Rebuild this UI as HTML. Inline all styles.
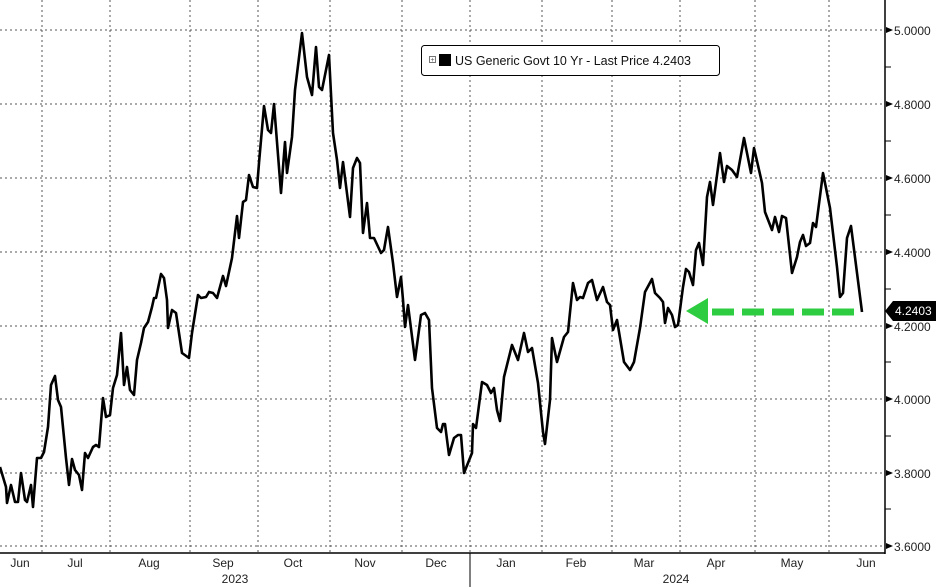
<!DOCTYPE html>
<html><head><meta charset="utf-8"><style>
body{margin:0;background:#fff}
svg{display:block;font-family:"Liberation Sans",sans-serif}
</style></head><body>
<svg width="936" height="587" viewBox="0 0 936 587" xmlns="http://www.w3.org/2000/svg">
<rect width="936" height="587" fill="#fff"/>
<g stroke="#555" stroke-width="1" stroke-dasharray="2,3">
<line x1="0" y1="30" x2="884" y2="30"/><line x1="0" y1="104" x2="884" y2="104"/>
<line x1="0" y1="178" x2="884" y2="178"/><line x1="0" y1="252" x2="884" y2="252"/>
<line x1="0" y1="326" x2="884" y2="326"/><line x1="0" y1="399" x2="884" y2="399"/>
<line x1="0" y1="473" x2="884" y2="473"/><line x1="0" y1="546" x2="884" y2="546"/>
<line x1="42" y1="0" x2="42" y2="553"/><line x1="110" y1="0" x2="110" y2="553"/>
<line x1="190" y1="0" x2="190" y2="553"/><line x1="258" y1="0" x2="258" y2="553"/>
<line x1="330" y1="0" x2="330" y2="553"/><line x1="402" y1="0" x2="402" y2="553"/>
<line x1="470" y1="0" x2="470" y2="553"/><line x1="542" y1="0" x2="542" y2="553"/>
<line x1="612" y1="0" x2="612" y2="553"/><line x1="680" y1="0" x2="680" y2="553"/>
<line x1="755" y1="0" x2="755" y2="553"/><line x1="829" y1="0" x2="829" y2="553"/>
</g>
<line x1="885" y1="0" x2="885" y2="554" stroke="#000" stroke-width="1.5"/>
<line x1="0" y1="553" x2="885" y2="553" stroke="#000" stroke-width="1.5"/>
<line x1="470" y1="553" x2="470" y2="587" stroke="#000" stroke-width="1"/>
<g stroke="#000" stroke-width="1">
<line x1="885" y1="67" x2="891" y2="67"/><line x1="885" y1="141" x2="891" y2="141"/>
<line x1="885" y1="215" x2="891" y2="215"/><line x1="885" y1="289" x2="891" y2="289"/>
<line x1="885" y1="362" x2="891" y2="362"/><line x1="885" y1="436" x2="891" y2="436"/>
<line x1="885" y1="509" x2="891" y2="509"/>
</g>
<g fill="#000"><path d="M886 27 L893 30 L886 33Z"/><path d="M886 101 L893 104 L886 107Z"/><path d="M886 175 L893 178 L886 181Z"/><path d="M886 249 L893 252 L886 255Z"/><path d="M886 323 L893 326 L886 329Z"/><path d="M886 396 L893 399 L886 402Z"/><path d="M886 470 L893 473 L886 476Z"/><path d="M886 543 L893 546 L886 549Z"/></g>
<g font-size="12" fill="#222">
<text x="894" y="35">5.0000</text><text x="894" y="109">4.8000</text><text x="894" y="183">4.6000</text>
<text x="894" y="257">4.4000</text><text x="894" y="331">4.2000</text><text x="894" y="404">4.0000</text>
<text x="894" y="478">3.8000</text><text x="894" y="551">3.6000</text>
</g>
<path d="M885 311 L893 301 L936 301 L936 321 L893 321Z" fill="#000"/>
<text x="895" y="315" font-size="12" fill="#fff">4.2403</text>
<g font-size="12" fill="#222" text-anchor="middle">
<text x="20" y="567">Jun</text><text x="75" y="567">Jul</text><text x="149" y="567">Aug</text>
<text x="223" y="567">Sep</text><text x="293" y="567">Oct</text><text x="365" y="567">Nov</text>
<text x="436" y="567">Dec</text><text x="506" y="567">Jan</text><text x="576" y="567">Feb</text>
<text x="644" y="567">Mar</text><text x="716" y="567">Apr</text><text x="792" y="567">May</text>
<text x="866" y="567">Jun</text><text x="235" y="583">2023</text><text x="676" y="583">2024</text>
</g>
<polyline fill="none" stroke="#000" stroke-width="2.6" stroke-linejoin="round" points="0,467 6,487 7,503 11,485 15,502 18,502 21,473 25,500 27,502 31,485 33,507 37,458 41,458 44,452 48,427 51,385 55,376 58,400 61,407 66,458 69,485 72,459 75,470 79,475 82,490 85,453 88,458 93,447 96,445 99,447 103,398 106,417 110,415 113,388 117,375 121,333 124,385 127,367 130,390 134,395 137,360 141,343 144,328 148,322 152,307 154,298 156,298 161,274 164,278 167,300 168,328 172,310 176,313 182,353 189,358 192,333 198,295 201,298 206,297 209,292 213,293 217,298 223,276 226,286 232,258 237,216 239,238 243,202 246,200 249,175 253,187 257,188 259,163 264,106 268,130 271,133 274,104 281,193 285,142 287,173 292,137 295,90 302,33 307,77 312,95 316,47 319,87 322,90 329,55 333,133 337,160 340,188 343,162 350,217 353,168 357,158 360,163 363,233 367,203 370,238 374,238 381,253 384,250 388,227 393,263 397,297 401,277 403,300 405,327 408,305 415,360 421,315 425,313 429,320 432,388 437,428 441,432 443,424 445,424 449,455 454,438 458,435 461,435 464,473 472,453 473,424 476,428 482,382 487,385 491,393 494,388 497,410 500,421 504,377 512,345 518,360 524,333 528,352 532,348 538,383 543,432 545,444 550,400 552,338 557,362 564,337 568,332 573,283 577,300 580,297 583,298 588,283 592,280 597,300 603,287 607,302 610,305 613,330 617,320 624,362 630,370 634,362 640,328 645,292 652,279 655,293 660,298 663,302 665,323 668,308 672,315 675,327 678,325 683,287 686,269 689,272 693,285 696,250 699,243 703,265 707,197 710,182 713,205 720,153 724,182 727,166 732,170 737,177 744,138 751,173 754,148 762,183 765,212 772,230 775,217 779,232 782,216 786,218 792,273 797,257 800,242 803,235 806,246 810,243 813,223 816,227 823,173 830,208 837,267 840,297 843,293 847,238 851,226 862,312"/>
<line x1="712" y1="312" x2="862" y2="312" stroke="#2ecc40" stroke-width="7" stroke-dasharray="22,8"/>
<path d="M686 311 L708 298 L708 324Z" fill="#2ecc40"/>
<rect x="421.5" y="45.5" width="298" height="30" rx="3" fill="#fff" stroke="#000" stroke-width="1"/>
<rect x="429.5" y="56.5" width="6" height="6" fill="none" stroke="#555" stroke-width="0.8"/>
<text x="432.5" y="62" font-size="7" text-anchor="middle" fill="#555">+</text>
<rect x="439" y="54" width="12" height="12" fill="#000"/>
<text x="455" y="65" font-size="12.5" fill="#111">US Generic Govt 10 Yr - Last Price 4.2403</text>
</svg>
</body></html>
